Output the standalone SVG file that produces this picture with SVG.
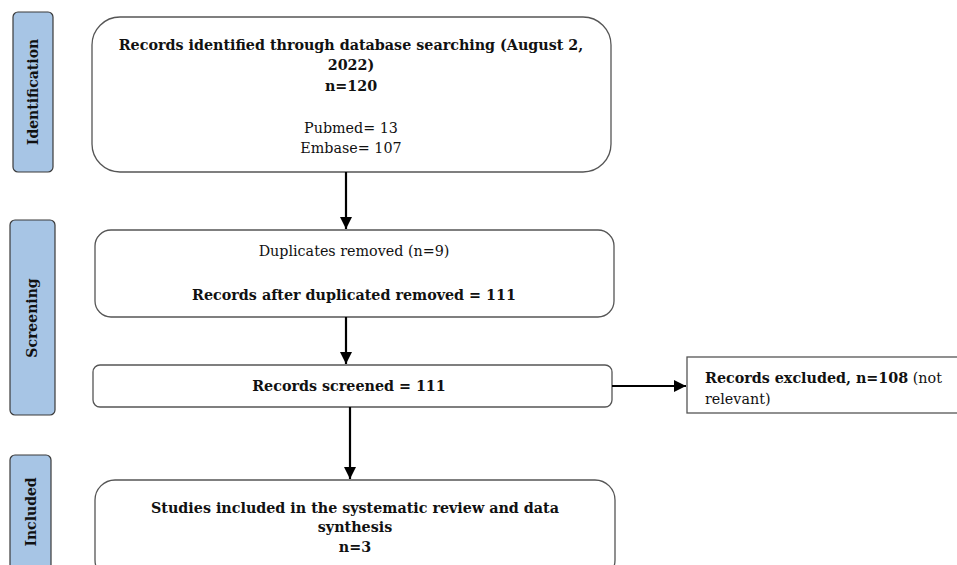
<svg xmlns="http://www.w3.org/2000/svg" width="957" height="565" viewBox="0 0 957 565">
<style>
.side{fill:#a7c5e5;stroke:#3a3a3a;stroke-width:1.2}
.box{fill:#fff;stroke:#555;stroke-width:1.3}
text{font-family:"DejaVu Serif","Liberation Serif",serif;font-size:14.3px;fill:#111}
.b{font-weight:bold}
.c{text-anchor:middle}
.lab{font-weight:bold;font-size:14px;text-anchor:middle}
.ln{stroke:#000;stroke-width:2.2;fill:none}
</style>
<defs>
<marker id="ah" viewBox="0 0 10 10" refX="10" refY="5" markerWidth="5.5" markerHeight="5.5" orient="auto" markerUnits="strokeWidth">
<path d="M0,0 L10,5 L0,10 z" fill="#000"/>
</marker>
</defs>
<g id="side-identification">
<rect class="side" x="13" y="12" width="40" height="160" rx="5"/>
<text class="lab" transform="translate(38,92) rotate(-90)">Identification</text>
</g>
<g id="side-screening">
<rect class="side" x="10" y="220" width="45" height="195" rx="5"/>
<text class="lab" transform="translate(37,318) rotate(-90)">Screening</text>
</g>
<g id="side-included">
<rect class="side" x="10" y="455" width="41" height="120" rx="5"/>
<text class="lab" transform="translate(36,512) rotate(-90)">Included</text>
</g>
<g id="node-identified">
<rect class="box" x="92" y="17" width="519" height="155" rx="28"/>
<text class="b c" x="351" y="50">Records identified through database searching (August 2,</text>
<text class="b c" x="351" y="70">2022)</text>
<text class="b c" x="351" y="91">n=120</text>
<text class="c" x="351" y="133">Pubmed= 13</text>
<text class="c" x="351" y="153">Embase= 107</text>
</g>
<g id="node-duplicates">
<rect class="box" x="95" y="230" width="519" height="87" rx="16"/>
<text class="c" x="354" y="256">Duplicates removed (n=9)</text>
<text class="b c" x="354" y="300">Records after duplicated removed = 111</text>
</g>
<g id="node-screened">
<rect class="box" x="93" y="365" width="519" height="42" rx="7"/>
<text class="b c" x="349" y="391">Records screened = 111</text>
</g>
<g id="node-excluded">
<rect class="box" x="687" y="357" width="275" height="56" rx="0"/>
<text x="705" y="383"><tspan class="b">Records excluded, n=108</tspan> (not</text>
<text x="705" y="404">relevant)</text>
</g>
<g id="node-included">
<rect class="box" x="95" y="480" width="520" height="100" rx="20"/>
<text class="b c" x="355" y="513">Studies included in the systematic review and data</text>
<text class="b c" x="355" y="532">synthesis</text>
<text class="b c" x="355" y="552">n=3</text>
</g>
<g id="connectors">
<line class="ln" x1="346" y1="172" x2="346" y2="229" marker-end="url(#ah)"/>
<line class="ln" x1="346" y1="317" x2="346" y2="364" marker-end="url(#ah)"/>
<line class="ln" x1="612" y1="386" x2="686" y2="386" marker-end="url(#ah)"/>
<line class="ln" x1="350" y1="407" x2="350" y2="479" marker-end="url(#ah)"/>
</g>
</svg>
